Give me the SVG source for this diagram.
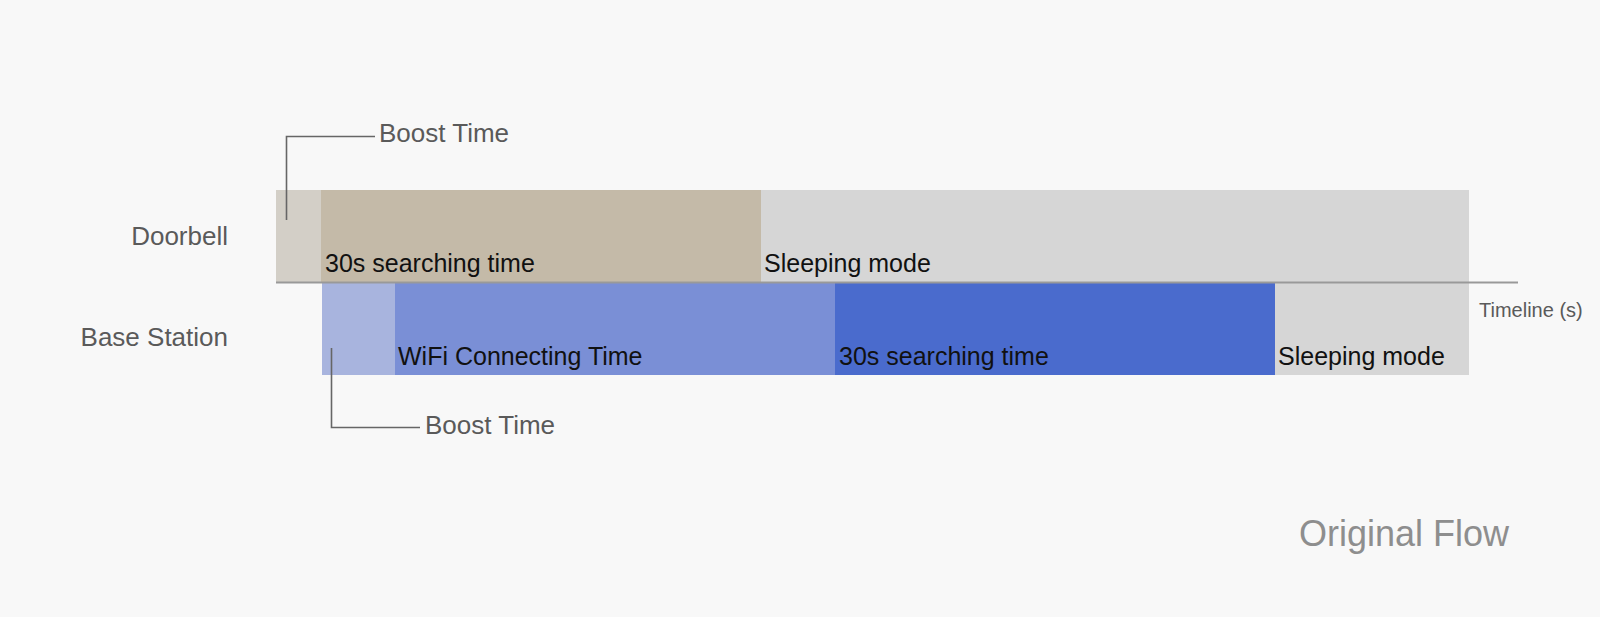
<svg xmlns="http://www.w3.org/2000/svg" width="1600" height="617" viewBox="0 0 1600 617">
<style>
.lbl{font-family:"Liberation Sans",Arial,sans-serif;font-size:26px;fill:#5a5a5a}
.bt{font-family:"Liberation Sans",Arial,sans-serif;font-size:25px;fill:#111}
.call{fill:none;stroke:#666;stroke-width:1.6}
</style>
<rect width="1600" height="617" fill="#f8f8f8"/>
<g id="doorbell">
<text class="lbl" x="228" y="245" text-anchor="end">Doorbell</text>
<rect x="276" y="190" width="45" height="92" fill="#d3cfc7"/>
<rect x="321" y="190" width="440" height="92" fill="#c4baa8"/>
<rect x="761" y="190" width="708" height="92" fill="#d6d6d6"/>
<text class="bt" x="325" y="272">30s searching time</text>
<text class="bt" x="764" y="272">Sleeping mode</text>
</g>
<g id="base-station">
<text class="lbl" x="228" y="346" text-anchor="end">Base Station</text>
<rect x="322" y="283" width="73" height="92" fill="#a8b4de"/>
<rect x="395" y="283" width="440" height="92" fill="#7a8fd6"/>
<rect x="835" y="283" width="440" height="92" fill="#4a6bcd"/>
<rect x="1275" y="283" width="194" height="92" fill="#d6d6d6"/>
<text class="bt" x="398" y="365">WiFi Connecting Time</text>
<text class="bt" x="839" y="365">30s searching time</text>
<text class="bt" x="1278" y="365">Sleeping mode</text>
</g>
<g id="connectors">
<line x1="276" y1="282.5" x2="1518" y2="282.5" stroke="#999" stroke-width="2"/>
<polyline class="call" points="286.5,220 286.5,136.5 375,136.5"/>
<polyline class="call" points="331.5,348 331.5,427.5 420,427.5"/>
</g>
<g id="boost-top"><text class="lbl" x="379" y="142">Boost Time</text></g>
<g id="boost-bottom"><text class="lbl" x="425" y="434">Boost Time</text></g>
<g id="timeline-label"><text x="1479" y="317" style="font-family:'Liberation Sans',Arial,sans-serif;font-size:20px;fill:#5a5a5a">Timeline (s)</text></g>
<g id="title"><text x="1299" y="546" style="font-family:'Liberation Sans',Arial,sans-serif;font-size:36px;fill:#8e8e8e">Original Flow</text></g>
</svg>
